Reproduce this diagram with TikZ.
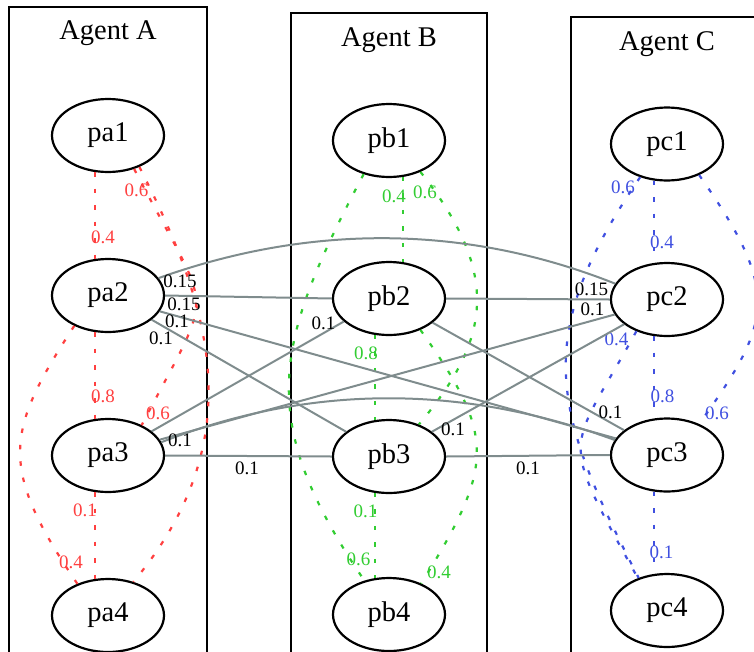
\documentclass[tikz,border=0pt]{standalone}
\usepackage{fontspec}
\setmainfont{Liberation Serif}
\usetikzlibrary{shapes.geometric}
\definecolor{agentred}{RGB}{255,64,64}
\definecolor{agentgreen}{RGB}{50,205,50}
\definecolor{agentblue}{RGB}{64,80,224}
\definecolor{linkgray}{RGB}{127,140,141}

\begin{document}
\begin{tikzpicture}[x=1pt, y=-1pt,
  main/.style = {draw, ellipse, line width=2.2pt, minimum width=112pt, minimum height=73pt, inner sep=0pt, font=\fontsize{28.5}{31}\selectfont},
  agentname/.style = {anchor=base, font=\fontsize{28.5}{31}\selectfont},
  agent/.style = {draw, line width=2.2pt},
  hop/.style = {draw=#1, line width=2.2pt, dash pattern=on 4.5pt off 12pt},
  link/.style = {draw=linkgray, line width=2pt},
  prob/.style = {inner sep=0pt, text=#1, font=\fontsize{19}{21}\selectfont},
  prob/.default = black]
\useasboundingbox (0,0) rectangle (754,651);
\clip (0,0) rectangle (754,651);

\draw[agent] (9,7) rectangle (207,700);
\draw[agent] (291,13) rectangle (487,700);
\draw[agent] (571,17) rectangle (800,700);
\node[agentname] (ta) at (108,39) {Agent A};
\node[agentname] (tb) at (389,46) {Agent B};
\node[agentname] (tc) at (667,50) {Agent C};

\begin{scope}[node distance=160pt]
\node[main] (pa1) at (108,135.5) {pa1};
\node[main] (pa2) [below of=pa1] {pa2};
\node[main] (pa3) [below of=pa2] {pa3};
\node[main] (pa4) [below of=pa3] {pa4};
\end{scope}
\begin{scope}[node distance=158pt]
\node[main] (pb1) at (389,140.5) {pb1};
\node[main] (pb2) [below of=pb1] {pb2};
\node[main] (pb3) [below of=pb2] {pb3};
\node[main] (pb4) [below of=pb3] {pb4};
\end{scope}
\begin{scope}[node distance=155.5pt]
\node[main] (pc1) at (667,144) {pc1};
\node[main] (pc2) [below of=pc1] {pc2};
\node[main] (pc3) [below of=pc2] {pc3};
\node[main] (pc4) [below of=pc3] {pc4};
\end{scope}

\draw[hop=agentred] (pa1.250) -- (pa2.110) node[prob=agentred] at (103,237.5) {0.4};
\draw[hop=agentred] (pa2.250) -- (pa3.110) node[prob=agentred] at (103,396.5) {0.8};
\draw[hop=agentred] (pa3.250) -- (pa4.110) node[prob=agentred] at (85,510) {0.1};
\draw[hop=agentred] (pa1.315) .. controls (207,300) and (256,435) .. (pa4.53) node[prob=agentred] at (136.5,190) {0.6};
\draw[hop=agentred] (pa1.308) .. controls (214,323) and (217,280) .. (pa3.42) node[prob=agentred] at (158,413) {0.6};
\draw[hop=agentred] (pa2.222) .. controls (5,432) and (-2,467) .. (pa4.134) node[prob=agentred] at (71,562.5) {0.4};

\draw[hop=agentgreen] (pb1.291) -- (pb2.69) node[prob=agentgreen] at (394,196) {0.4};
\draw[hop=agentgreen] (pb2.249) -- (pb3.111) node[prob=agentgreen] at (366,353.5) {0.8};
\draw[hop=agentgreen] (pb3.249) -- (pb4.111) node[prob=agentgreen] at (365.5,511) {0.1};
\draw[hop=agentgreen] (pb1.233) .. controls (274,344) and (254,418) .. (pb4.126) node[prob=agentgreen] at (358.5,559.5) {0.6};
\draw[hop=agentgreen] (pb1.315) .. controls (503,276) and (489,341) .. (pb3.47) node[prob=agentgreen] at (425,192.5) {0.6};
\draw[hop=agentgreen] (pb2.315) .. controls (496,436) and (495,465) .. (pb4.44) node[prob=agentgreen] at (439,572) {0.4};

\draw[hop=agentblue] (pc1.250) -- (pc2.110) node[prob=agentblue] at (662,242) {0.4};
\draw[hop=agentblue] (pc2.250) -- (pc3.110) node[prob=agentblue] at (662.5,396.5) {0.8};
\draw[hop=agentblue] (pc3.250) -- (pc4.110) node[prob=agentblue] at (661.5,552.5) {0.1};
\draw[hop=agentblue] (pc1.231) .. controls (530,338) and (553,412) .. (pc4.131) node[prob=agentblue] at (623,187.5) {0.6};
\draw[hop=agentblue] (pc2.226) .. controls (568,456) and (556,430) .. (pc4.132) node[prob=agentblue] at (616.5,339.5) {0.4};
\draw[hop=agentblue] (pc1.316) .. controls (782,293) and (772,322) .. (pc3.44) node[prob=agentblue] at (717,413) {0.6};

\draw[link] (pa2.19) .. controls (310,224) and (465,224) .. (pc2.163) node[prob] at (180,281) {0.15};
\draw[link] (pa2.east) -- (pb2.west) node[prob] at (184,304) {0.15};
\draw[link] (pa2.343) -- (pc3.162) node[prob] at (177,321.5) {0.1};
\draw[link] (pa2.331) -- (pb3.150) node[prob] at (161,338) {0.1};
\draw[link] (pa3.29) -- (pb2.207) node[prob] at (323.5,323.5) {0.1};
\draw[link] (pa3.17) -- (pc2.196) node[prob] at (592.5,309.5) {0.1};
\draw[link] (pa3.14) .. controls (310,384) and (462,384) .. (pc3.164) node[prob] at (180,440) {0.1};
\draw[link] (pa3.east) -- (pb3.west) node[prob] at (247,468) {0.1};
\draw[link] (pb2.east) -- (pc2.west) node[prob] at (591.5,289) {0.15};
\draw[link] (pb2.331) -- (pc3.150) node[prob] at (610.5,412.5) {0.1};
\draw[link] (pb3.30) -- (pc2.210) node[prob] at (453,429.5) {0.1};
\draw[link] (pb3.east) -- (pc3.west) node[prob] at (528,468) {0.1};
\end{tikzpicture}
\end{document}
